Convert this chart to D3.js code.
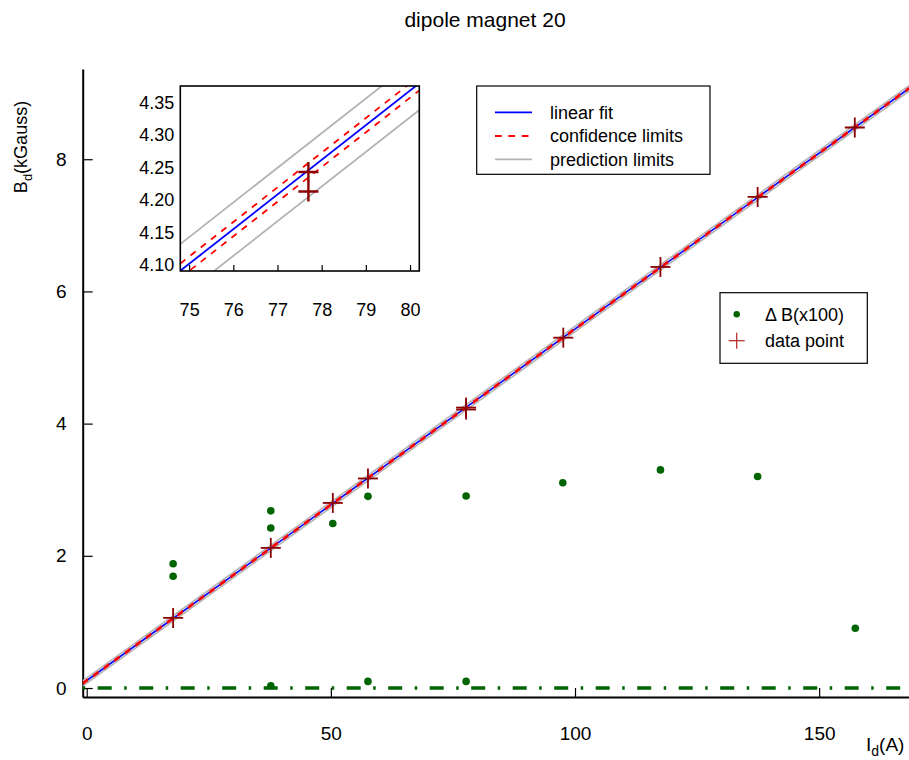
<!DOCTYPE html>
<html>
<head>
<meta charset="utf-8">
<script src="https://cdn.jsdelivr.net/npm/d3@7"></script>
<style>
  body { margin: 0; background: #fff; }
  svg text { font-family: "Liberation Sans", Arial, Helvetica, sans-serif; fill: #000; }
</style>
</head>
<body>
<svg id="chart" width="909" height="760"></svg>
<script>
// ---------------- data ----------------
const title = "dipole magnet 20";
const xTicks = [0, 50, 100, 150];
const yTicks = [0, 2, 4, 6, 8];
const insetXTicks = [75, 76, 77, 78, 79, 80];
const insetYTicks = [4.10, 4.15, 4.20, 4.25, 4.30, 4.35];

// measured data points (current in A, field in kGauss)
const pointI = [17.7, 37.7, 50.4, 57.6, 77.7, 77.7, 97.6, 117.5, 137.4, 157.3];
const pointB = [1.06, 2.12, 2.80, 3.17, 4.243, 4.213, 5.30, 6.37, 7.43, 8.48];

// Delta B (x100) points
const deltaI = [17.7, 17.7, 37.7, 37.7, 37.7, 50.4, 57.6, 57.6, 77.7, 77.7, 97.5, 117.5, 137.4, 157.4];
const deltaB = [1.88, 1.69, 2.68, 2.42, 0.035, 2.49, 2.90, 0.10, 2.905, 0.10, 3.106, 3.30, 3.20, 0.903];

// linear fit parameters and band half-widths (kGauss)
const fitIntercept = 0.112;
const fitSlope = 0.0532;
const confHalf = 0.011;
const predHalf = 0.041;

const legend1Labels = ["linear fit", "confidence limits", "prediction limits"];
const legend2Labels = ["\u0394 B(x100)", "data point"];

// ---------------- styles ----------------
const C = {
  blue: "#0000ff", red: "#ff0000", gray: "#b4b4b4",
  green: "#006400", cross: "#8b0000", legendCross: "#b22222"
};
const font = 18;
const tickFont = 19;

const svg = d3.select("#chart");

// ---------------- main scales ----------------
const x = d3.scaleLinear().domain([-0.82, 168.4]).range([82.7, 909]);
const y = d3.scaleLinear().domain([-0.136, 9.365]).range([697, 69]);

svg.append("defs").append("clipPath").attr("id", "mainClip")
  .append("rect").attr("x", 82.7).attr("y", 69).attr("width", 909 - 82.7).attr("height", 697 - 69);

// title
svg.append("text").attr("x", 485).attr("y", 27).attr("text-anchor", "middle")
  .style("font-size", "21px").text(title);

// axes
const xAxis = d3.axisBottom(x).tickValues(xTicks).tickSizeInner(-9).tickSizeOuter(0).tickPadding(30);
const gx = svg.append("g").attr("transform", "translate(0,697)").call(xAxis);
const yAxis = d3.axisLeft(y).tickValues(yTicks).tickSizeInner(-10).tickSizeOuter(0).tickPadding(16);
const gy = svg.append("g").attr("transform", "translate(82.7,0)").call(yAxis);
[gx, gy].forEach(g => {
  g.selectAll("path.domain").attr("stroke", "#000").attr("stroke-width", 2);
  g.selectAll(".tick line").attr("stroke", "#000").attr("stroke-width", 1.2);
  g.selectAll(".tick text").style("font-size", tickFont + "px")
    .style("font-family", "'Liberation Sans', Arial, sans-serif");
});

// axis titles
const xl = svg.append("text").attr("x", 866).attr("y", 751).style("font-size", "19px");
xl.append("tspan").text("I");
xl.append("tspan").attr("dy", 5).style("font-size", "14px").text("d");
xl.append("tspan").attr("dy", -5).text("(A)");

const yl = svg.append("text").attr("transform", "translate(27,147) rotate(-90)")
  .attr("text-anchor", "middle").style("font-size", font + "px");
yl.append("tspan").text("B");
yl.append("tspan").attr("dy", 5).style("font-size", "13px").text("d");
yl.append("tspan").attr("dy", -5).text("(kGauss)");

// ---------------- main plot content ----------------
const plot = svg.append("g").attr("clip-path", "url(#mainClip)");
const xd = x.domain();
const lineGen = (xs, sc, off) => d3.line().x(d => xs(d)).y(d => sc(fitIntercept + fitSlope * d + off));

function drawFit(g, xs, ys, dom, lw) {
  const pts = [dom[0], dom[1]];
  [predHalf, -predHalf].forEach(o =>
    g.append("path").attr("d", lineGen(xs, ys, o)(pts)).attr("fill", "none")
      .attr("stroke", C.gray).attr("stroke-width", lw));
  g.append("path").attr("d", lineGen(xs, ys, 0)(pts)).attr("fill", "none")
    .attr("stroke", C.blue).attr("stroke-width", lw);
  [confHalf, -confHalf].forEach(o =>
    g.append("path").attr("d", lineGen(xs, ys, o)(pts)).attr("fill", "none")
      .attr("stroke", C.red).attr("stroke-width", lw).attr("stroke-dasharray", "6.5,6.5"));
}
drawFit(plot, x, y, xd, 1.6);

// zero dash-dot line
plot.append("path")
  .attr("d", d3.line().x(d => x(d)).y(() => y(0))([xd[0], xd[1]]))
  .attr("stroke", C.green).attr("stroke-width", 3.6).attr("fill", "none")
  .attr("stroke-dasharray", "2.5,12.5,14,12.5");

// delta B dots
plot.selectAll("circle.dB").data(deltaI.map((v, i) => [v, deltaB[i]])).join("circle")
  .attr("class", "dB").attr("cx", d => x(d[0])).attr("cy", d => y(d[1])).attr("r", 3.8)
  .attr("fill", C.green);

// data crosses
function cross(g, cx, cy, h, color, w) {
  g.append("line").attr("x1", cx - h).attr("x2", cx + h).attr("y1", cy).attr("y2", cy)
    .attr("stroke", color).attr("stroke-width", w);
  g.append("line").attr("x1", cx).attr("x2", cx).attr("y1", cy - h).attr("y2", cy + h)
    .attr("stroke", color).attr("stroke-width", w);
}
pointI.forEach((v, i) => cross(plot, x(v), y(pointB[i]), 10, C.cross, 1.8));

// ---------------- inset ----------------
const xi = d3.scaleLinear().domain([74.8, 80.21]).range([180.3, 419.3]);
const yi = d3.scaleLinear().domain([4.091, 4.375]).range([271, 86]);
svg.select("defs").append("clipPath").attr("id", "insetClip")
  .append("rect").attr("x", 180.3).attr("y", 86).attr("width", 239).attr("height", 185);
svg.append("rect").attr("x", 180.3).attr("y", 86).attr("width", 239).attr("height", 185)
  .attr("fill", "#fff");
const ins = svg.append("g").attr("clip-path", "url(#insetClip)");
drawFit(ins, xi, yi, xi.domain(), 1.8);
pointI.forEach((v, i) => {
  if (v >= xi.domain()[0] && v <= xi.domain()[1]) cross(ins, xi(v), yi(pointB[i]), 10, C.cross, 2.4);
});
svg.append("rect").attr("x", 180.3).attr("y", 86).attr("width", 239).attr("height", 185)
  .attr("fill", "none").attr("stroke", "#000").attr("stroke-width", 1.6);

const ixAxis = d3.axisBottom(xi).tickValues(insetXTicks).tickSizeInner(-6).tickSizeOuter(0).tickPadding(32)
  .tickFormat(d3.format("d"));
const gix = svg.append("g").attr("transform", "translate(0,271)").call(ixAxis);
const iyAxis = d3.axisLeft(yi).tickValues(insetYTicks).tickSizeInner(0).tickSizeOuter(0).tickPadding(6)
  .tickFormat(d3.format(".2f"));
const giy = svg.append("g").attr("transform", "translate(180.3,0)").call(iyAxis);
[gix, giy].forEach(g => {
  g.select("path.domain").remove();
  g.selectAll(".tick line").attr("stroke", "#000").attr("stroke-width", 1.2);
  g.selectAll(".tick text").style("font-size", font + "px")
    .style("font-family", "'Liberation Sans', Arial, sans-serif");
});

// ---------------- legends ----------------
const lg1 = svg.append("g");
lg1.append("rect").attr("x", 476.7).attr("y", 86).attr("width", 233.3).attr("height", 88.3)
  .attr("fill", "#fff").attr("stroke", "#000").attr("stroke-width", 1.2);
const lg1Styles = [
  { stroke: C.blue, dash: null },
  { stroke: C.red, dash: "6.7,6.7" },
  { stroke: C.gray, dash: null }
];
const lg1Y = [112.3, 136, 159.3];
legend1Labels.forEach((t, i) => {
  lg1.append("line").attr("x1", 495).attr("x2", 532).attr("y1", lg1Y[i]).attr("y2", lg1Y[i])
    .attr("stroke", lg1Styles[i].stroke).attr("stroke-width", 1.8)
    .attr("stroke-dasharray", lg1Styles[i].dash);
  lg1.append("text").attr("x", 550).attr("y", lg1Y[i]).attr("dy", "0.35em")
    .style("font-size", font + "px").text(t);
});

const lg2 = svg.append("g");
lg2.append("rect").attr("x", 720).attr("y", 292.7).attr("width", 147.3).attr("height", 70.6)
  .attr("fill", "#fff").attr("stroke", "#000").attr("stroke-width", 1.2);
const lg2Y = [314.3, 340.7];
lg2.append("circle").attr("cx", 736.7).attr("cy", lg2Y[0]).attr("r", 3.2).attr("fill", C.green);
cross(lg2, 736.7, lg2Y[1], 8, C.legendCross, 1.2);
legend2Labels.forEach((t, i) => {
  lg2.append("text").attr("x", 765).attr("y", lg2Y[i]).attr("dy", "0.35em")
    .style("font-size", font + "px").text(t);
});
</script>
</body>
</html>
